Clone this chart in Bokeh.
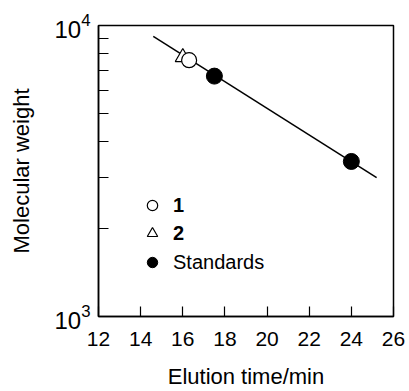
from bokeh.plotting import figure
from bokeh.models import Range1d, FixedTicker, Legend, LegendItem, LogTickFormatter
from bokeh.embed import file_html
from bokeh.resources import INLINE

# ---- data ----
fit_x = [14.6, 25.2]
fit_y = [9170, 3000]
standards_x = [17.5, 24.0]
standards_y = [6700, 3410]
compound1_x = [16.3]
compound1_y = [7600]
compound2_x = [16.0]
compound2_y = [7780]
x_ticks = [12, 14, 16, 18, 20, 22, 24, 26]
y_ticks = [1000, 10000]
y_minor = [2000, 3000, 4000, 5000, 6000, 7000, 8000, 9000]

FONT = "Liberation Sans"

p = figure(width=409, height=391, output_backend="svg", toolbar_location=None,
           y_axis_type="log",
           x_range=Range1d(12, 26), y_range=Range1d(1000, 10000),
           min_border_left=98, min_border_right=16, min_border_top=25, min_border_bottom=75)
p.grid.visible = False
p.outline_line_color = "black"
p.outline_line_width = 1.5
p.background_fill_color = "white"

p.line(fit_x, fit_y, line_color="black", line_width=1.5)
r_std = p.scatter(standards_x, standards_y, marker="circle", size=16,
                  fill_color="black", line_color="black")
r_c2 = p.scatter(compound2_x, compound2_y, marker="triangle", size=15,
                 fill_color="white", line_color="black", line_width=1.2)
r_c1 = p.scatter(compound1_x, compound1_y, marker="circle", size=15,
                 fill_color="white", line_color="black", line_width=1.2)

xa = p.xaxis[0]
xa.ticker = FixedTicker(ticks=x_ticks)
xa.axis_label = "Elution time/min"
xa.major_tick_in = 10
xa.major_tick_out = 0
xa.minor_tick_in = 0
xa.minor_tick_out = 0
xa.major_label_standoff = 15
xa.axis_label_standoff = 15

ya = p.yaxis[0]
ya.ticker = FixedTicker(ticks=y_ticks, minor_ticks=y_minor)
ya.formatter = LogTickFormatter()
ya.axis_label = "Molecular weight"
ya.major_tick_in = 10
ya.major_tick_out = 0
ya.minor_tick_in = 10
ya.minor_tick_out = 0
ya.major_label_standoff = 8
ya.axis_label_standoff = 17

for ax in (xa, ya):
    ax.axis_line_color = "black"
    ax.axis_line_width = 1.5
    ax.major_tick_line_color = "black"
    ax.major_tick_line_width = 1.2
    ax.minor_tick_line_color = "black"
    ax.minor_tick_line_width = 1.2
    ax.major_label_text_font = FONT
    ax.major_label_text_font_size = "21px"
    ax.major_label_text_color = "black"
    ax.axis_label_text_font = FONT
    ax.axis_label_text_font_size = "22px"
    ax.axis_label_text_font_style = "normal"
    ax.axis_label_text_color = "black"
ya.major_label_text_font_size = "24px"

def make_legend(items, loc, style):
    lg = Legend(items=items, location=loc, orientation="vertical",
                label_text_font=FONT, label_text_font_size="20px",
                label_text_font_style=style, label_text_color="black",
                glyph_width=26, glyph_height=28, label_height=28,
                label_standoff=8, spacing=0, padding=0, margin=0,
                border_line_color=None, background_fill_alpha=0)
    p.add_layout(lg)
    return lg

make_legend([LegendItem(label="1", renderers=[r_c1]),
             LegendItem(label="2", renderers=[r_c2])], (41, 69), "bold")
make_legend([LegendItem(label="Standards", renderers=[r_std])], (41, 40), "normal")

open("out.html", "w").write(file_html(p, INLINE))
